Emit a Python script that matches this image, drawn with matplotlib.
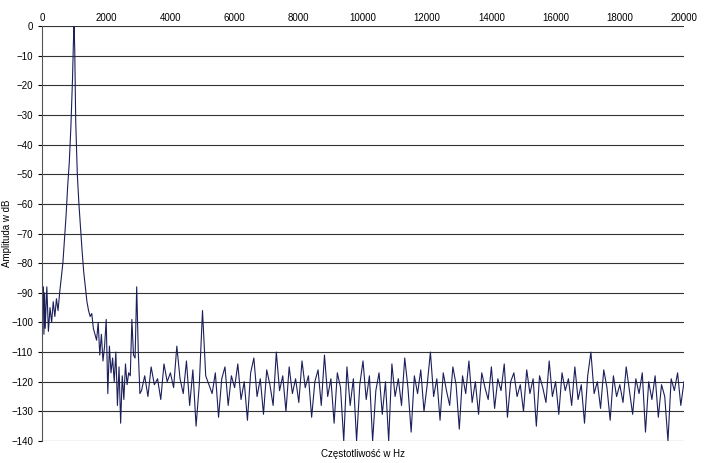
import matplotlib
matplotlib.use("Agg")
import matplotlib.pyplot as plt

plt.rcParams['font.family'] = ['Liberation Sans', 'DejaVu Sans']

freq_low = [0, 20, 40, 60, 80, 100, 150, 200, 250, 300, 350, 400, 450, 500, 550, 600, 650, 700,
            750, 800, 850, 900, 950, 980, 1000, 1020, 1050, 1100, 1150, 1200, 1250, 1300, 1350, 1400, 1450,
            1500, 1550, 1600, 1650, 1700, 1750, 1800, 1850, 1900, 1950, 2000, 2050, 2100, 2150,
            2200, 2250, 2300, 2350, 2400, 2450, 2500, 2550, 2600, 2650, 2700, 2750, 2800, 2850,
            2900, 2950, 3000, 3050]
amp_low = [-77, -95, -88, -104, -90, -102, -88, -103, -95, -100, -93, -98, -92, -96, -90, -85, -80, -72,
           -64, -54, -46, -34, -18, -5, 0, -8, -32, -50, -60, -68, -76, -83, -88, -93, -96,
           -98, -97, -102, -104, -106, -100, -111, -104, -113, -108, -99, -124, -108, -117,
           -112, -120, -110, -128, -115, -134, -118, -126, -114, -121, -117, -118, -99, -111,
           -112, -88, -110, -124]

amp_noise = [
    -123, -118, -125, -115, -121, -119, -126, -114, -120, -117,
    -122, -108, -119, -124, -113, -128, -116, -135, -121, -96,
    -118, -121, -124, -117, -132, -119, -115, -128, -118, -122,
    -114, -126, -120, -133, -117, -112, -125, -119, -131, -116,
    -121, -128, -110, -123, -118, -130, -115, -124, -119, -127,
    -113, -122, -118, -132, -120, -116, -128, -111, -125, -119,
    -134, -117, -122, -140, -115, -128, -119, -140, -121, -113,
    -126, -118, -140, -123, -117, -131, -120, -140, -114, -125,
    -119, -128, -112, -122, -137, -118, -124, -116, -130, -121,
    -110, -125, -119, -133, -117, -123, -128, -115, -121, -136,
    -118, -124, -113, -127, -120, -131, -117, -122, -126, -115,
    -129, -119, -123, -114, -132, -120, -117, -125, -121, -130,
    -116, -124, -119, -135, -118, -122, -127, -113, -125, -120,
    -131, -117, -123, -119, -128, -115, -126, -121, -134, -118,
    -110, -124, -120, -129, -116, -122, -133, -118, -125, -121,
    -127, -115, -123, -131, -119, -124, -117, -137, -120, -126,
    -118, -132, -121, -125, -140, -119, -123, -117, -128, -120,
]
freq_noise = [3100 + 100 * i for i in range(len(amp_noise))]

freqs = freq_low + freq_noise
amps = amp_low + amp_noise

fig = plt.figure(figsize=(7.05, 4.63), dpi=100)
ax = fig.add_axes([42/705, 1 - 441/463, 642/705, 415/463])
ax.plot(freqs, amps, color='#1c1f5a', lw=0.8)
ax.set_xlim(0, 20000)
ax.set_ylim(-140, 0)
ax.set_yticks(range(-140, 1, 10))
ax.set_xticks(range(0, 20001, 2000))
ax.xaxis.tick_top()
ax.tick_params(labelsize=7, length=3, width=0.8, direction='out')
ax.tick_params(axis='x', length=0, pad=2)
ax.grid(axis='y', color='#333333', lw=0.8)
ax.set_axisbelow(True)
for s in ['top', 'right', 'bottom']:
    ax.spines[s].set_visible(False)
ax.spines['left'].set_color('#555555')
ax.set_ylabel('Amplituda w dB', fontsize=7)
ax.yaxis.set_label_coords(-30/642, 0.5)
ax.set_xlabel('Częstotliwość w Hz', fontsize=7, labelpad=6)
ax.xaxis.set_label_position('bottom')
fig.savefig('out.png', dpi=100)
